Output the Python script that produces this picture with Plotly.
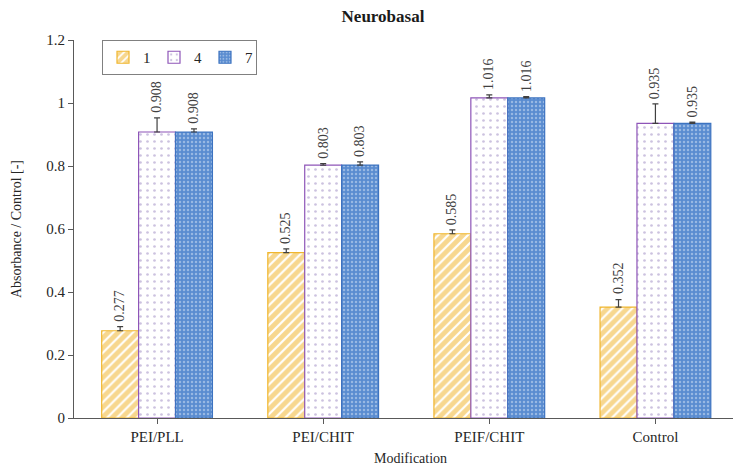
import plotly.graph_objects as go

categories = ["PEI/PLL", "PEI/CHIT", "PEIF/CHIT", "Control"]
series_names = ["1", "4", "7"]
values_1 = [0.277, 0.525, 0.585, 0.352]
values_4 = [0.908, 0.803, 1.016, 0.935]
values_7 = [0.908, 0.803, 1.016, 0.935]
err_1 = [0.013, 0.012, 0.012, 0.024]
err_4 = [0.045, 0.005, 0.010, 0.062]
err_7 = [0.010, 0.010, 0.004, 0.004]
label_1 = ["0.277", "0.525", "0.585", "0.352"]
label_4 = ["0.908", "0.803", "1.016", "0.935"]
label_7 = ["0.908", "0.803", "1.016", "0.935"]

FONT = "Liberation Serif, Times New Roman, serif"
AX = "#595959"
TXT = "#262626"

styles = [
    dict(color="white", line=dict(color="#F0B62E", width=1.2),
         pattern=dict(shape="/", fgcolor="#F0B020", bgcolor="white", size=7, solidity=0.7)),
    dict(color="white", line=dict(color="#8E55B8", width=1.2),
         pattern=dict(shape=".", fgcolor="#9A86C0", bgcolor="white", size=7, solidity=0.12)),
    dict(color="#5E90D2", line=dict(color="#3D73C0", width=1.2),
         pattern=dict(shape=".", fgcolor="#D6E4F6", bgcolor="#5A8CD0", size=4, solidity=0.3)),
]

all_vals = [values_1, values_4, values_7]
all_errs = [err_1, err_4, err_7]
all_labels = [label_1, label_4, label_7]

fig = go.Figure()
xidx = list(range(len(categories)))
for name, vals, errs, st in zip(series_names, all_vals, all_errs, styles):
    fig.add_trace(go.Bar(
        x=xidx, y=vals, name=name, marker=st,
        error_y=dict(type="data", array=errs, arrayminus=[0] * len(errs), symmetric=False,
                     color="#404040", thickness=1.2, width=3),
    ))

bargap = 1 / 3
nser = len(series_names)
bw = (1 - bargap) / nser
annotations = []
for s, (vals, errs, labs) in enumerate(zip(all_vals, all_errs, all_labels)):
    off = (s - (nser - 1) / 2) * bw
    for i, (v, e, t) in enumerate(zip(vals, errs, labs)):
        annotations.append(dict(
            x=i + off, y=v + e, text=t, showarrow=False, textangle=-90,
            xanchor="center", yanchor="bottom", yshift=3,
            font=dict(family=FONT, size=14, color="#404040"),
        ))

annotations.append(dict(
    text="Modification", xref="paper", yref="paper",
    x=(410 - 74) / 659, y=-(458 - 418) / 378, xanchor="center", yanchor="middle",
    showarrow=False, font=dict(family=FONT, size=14, color=TXT),
))
annotations.append(dict(
    text="Absorbance / Control [-]", textangle=-90, showarrow=False,
    xref="paper", yref="paper", x=-(74 - 16) / 659, y=0.5,
    xanchor="center", yanchor="middle", font=dict(family=FONT, size=14, color=TXT),
))

fig.update_layout(
    width=733, height=467,
    margin=dict(l=74, r=0, t=40, b=49, autoexpand=False),
    plot_bgcolor="white", paper_bgcolor="white",
    barmode="group", bargap=bargap, bargroupgap=0,
    font=dict(family=FONT, size=14, color=TXT),
    title=dict(text="<b>Neurobasal</b>", x=383 / 733, xanchor="center",
               y=1 - 16 / 467, yanchor="middle",
               font=dict(family=FONT, size=17, color="#1a1a1a")),
    legend=dict(orientation="h", x=(102 - 74) / 659, y=1.0,
                xanchor="left", yanchor="top",
                bordercolor="#808080", borderwidth=1, bgcolor="white",
                font=dict(family=FONT, size=15, color=TXT),
                itemwidth=30, tracegroupgap=0, entrywidth=6, entrywidthmode="pixels"),
    annotations=annotations,
    showlegend=True,
)

fig.update_xaxes(
    tickmode="array", tickvals=xidx, ticktext=categories,
    range=[-0.5, 3.467], tickson="boundaries", ticks="outside", ticklen=5,
    tickcolor=AX, showline=True, linecolor=AX, linewidth=1.2,
    showgrid=False, zeroline=False, automargin=False,
    tickfont=dict(family=FONT, size=15, color=TXT),
)
fig.update_yaxes(
    range=[0, 1.2], dtick=0.2, ticks="outside", ticklen=5, tickcolor=AX,
    showline=True, linecolor=AX, linewidth=1.2, showgrid=False, zeroline=False,
    automargin=False,
    tickfont=dict(family=FONT, size=15, color=TXT),
)

fig.write_html("out.html", config={"displayModeBar": False},
               post_script="document.body.style.margin='0';document.body.style.overflow='hidden';")
